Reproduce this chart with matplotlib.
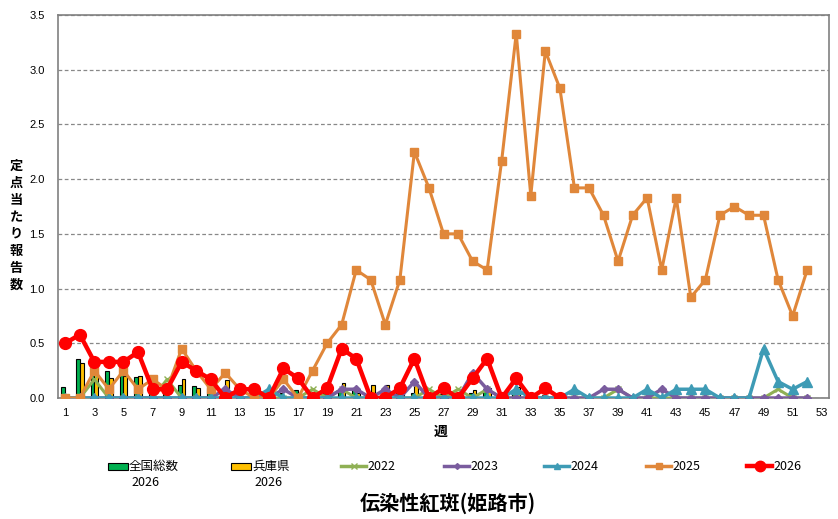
import numpy as np
import matplotlib
matplotlib.use("Agg")
import matplotlib.pyplot as plt
from matplotlib.patches import Rectangle
from matplotlib.lines import Line2D

plt.rcParams['font.family'] = ['Noto Sans CJK JP', 'DejaVu Sans']

weeks = list(range(1, 54))
tick_weeks = list(range(1, 54, 2))

national_2026 = [0.10, 0.36, 0.27, 0.25, 0.22, 0.19, 0.05, 0.11, 0.12, 0.11,
                 0.09, 0.09, 0.04, 0.03, 0.05, 0.05, 0.07, 0.05, 0.05, 0.07,
                 0.09, 0.05, 0.05, 0.05, 0.05, 0.04, 0.04, 0.04, 0.05, 0.07,
                 0.04, 0.06, 0.04, 0.03, 0.03]
hyogo_2026 = [0.0, 0.32, 0.24, 0.18, 0.20, 0.20, 0.0, 0.0, 0.17, 0.09,
              0.06, 0.16, 0.0, 0.0, 0.0, 0.0, 0.0, 0.0, 0.0, 0.14,
              0.05, 0.12, 0.12, 0.05, 0.12, 0.0, 0.0, 0.0, 0.07, 0.09,
              0.0, 0.10, 0.0, 0.0, 0.0]

s2022 = [0, 0, 0.17, 0, 0, 0, 0, 0.17, 0, 0,
         0, 0, 0, 0, 0, 0, 0, 0.08, 0, 0.08,
         0, 0, 0, 0, 0, 0.08, 0, 0.08, 0, 0.08,
         0, 0, 0, 0, 0, 0, 0, 0, 0.08, 0,
         0, 0, 0, 0, 0, 0, 0, 0, 0, 0.08,
         0, 0]
s2023 = [0, 0, 0, 0, 0, 0, 0, 0, 0, 0,
         0, 0.08, 0, 0, 0, 0.08, 0, 0, 0, 0.08,
         0.08, 0, 0.08, 0, 0.15, 0, 0, 0, 0.23, 0.08,
         0, 0, 0, 0, 0, 0, 0, 0.08, 0.08, 0,
         0, 0.08, 0, 0, 0, 0, 0, 0, 0, 0,
         0, 0]
s2024 = [0, 0, 0, 0, 0, 0, 0, 0, 0, 0,
         0, 0, 0, 0, 0.08, 0, 0, 0, 0, 0,
         0, 0, 0, 0, 0, 0, 0, 0, 0, 0,
         0, 0.08, 0, 0, 0, 0.08, 0, 0, 0, 0,
         0.08, 0, 0.08, 0.08, 0.08, 0, 0, 0, 0.45, 0.15,
         0.08, 0.15]
s2025 = [0, 0, 0.25, 0.08, 0.25, 0.08, 0.17, 0.08, 0.45, 0.25,
         0.08, 0.23, 0.08, 0, 0, 0.17, 0, 0.25, 0.5, 0.67,
         1.17, 1.08, 0.67, 1.08, 2.25, 1.92, 1.5, 1.5, 1.25, 1.17,
         2.17, 3.33, 1.85, 3.17, 2.83, 1.92, 1.92, 1.67, 1.25, 1.67,
         1.83, 1.17, 1.83, 0.92, 1.08, 1.67, 1.75, 1.67, 1.67, 1.08,
         0.75, 1.17]
s2026 = [0.5, 0.58, 0.33, 0.33, 0.33, 0.42, 0.08, 0.08, 0.33, 0.25,
         0.17, 0, 0.08, 0.08, 0, 0.27, 0.18, 0, 0.09, 0.45,
         0.36, 0, 0, 0.09, 0.36, 0, 0.09, 0, 0.18, 0.36,
         0, 0.18, 0, 0.09, 0]

C_NAT, C_HYO = '#00B050', '#FFC000'
C22, C23, C24, C25, C26 = '#8FB054', '#7A5C9E', '#3E9BB5', '#E0873A', '#FF0000'

W, H = 838, 519
fig = plt.figure(figsize=(W / 100, H / 100), dpi=100)
ax = fig.add_axes([58 / W, (H - 398) / H, (829 - 58) / W, (398 - 15) / H])

bw = 0.26
xn = np.arange(1, len(national_2026) + 1)
ax.bar(xn - bw / 2, national_2026, width=bw, color=C_NAT, edgecolor='black', linewidth=0.8, zorder=2)
ax.bar(xn + bw / 2, hyogo_2026, width=bw, color=C_HYO, edgecolor='black', linewidth=0.8, zorder=2)

def line(vals, color, marker, ms, lw, z=3):
    x = np.arange(1, len(vals) + 1)
    ax.plot(x, vals, color=color, marker=marker, markersize=ms, linewidth=lw,
            markeredgecolor=color, markerfacecolor=color, zorder=z)

line(s2022, C22, 'x', 5, 2.2, z=3)
line(s2023, C23, 'D', 4.5, 2.5, z=4)
line(s2024, C24, '^', 6.5, 2.5, z=5)
line(s2025, C25, 's', 5.5, 2.2, z=6)
line(s2026, C26, 'o', 8.5, 3.2, z=7)

ax.set_xlim(0.5, 53.5)
ax.set_ylim(0, 3.5)
yt = np.arange(0, 3.51, 0.5)
ax.set_yticks(yt)
ax.set_yticklabels([f"{v:.1f}" for v in yt], family='Liberation Sans', fontsize=8)
ax.set_xticks(tick_weeks)
ax.set_xticklabels([str(w) for w in tick_weeks], family='Liberation Sans', fontsize=8)
ax.tick_params(axis='both', length=0)
ax.tick_params(axis='y', pad=9.5)
ax.tick_params(axis='x', pad=7.5)
ax.yaxis.grid(True, linestyle=(0, (3, 2)), color='#888888', linewidth=0.9)
ax.set_axisbelow(True)
for sp in ax.spines.values():
    sp.set_color('#808080')
    sp.set_linewidth(1.2)

# y label (vertical stacked)
label = "定点当たり報告数"
ys = np.linspace(166, 285, len(label))
for ch, yy in zip(label, ys):
    fig.text(16 / W, 1 - yy / H, ch, ha='center', va='center', fontsize=9.5, fontweight='bold')

fig.text(441 / W, 1 - 432 / H, "週", ha='center', va='center', fontsize=10, fontweight='bold')

# legend drawn manually in figure pixel coordinates
def fx(px):
    return px / W

def fy(py):
    return 1 - py / H

ly = 466
leg_items = [
    ('patch', C_NAT, None, 108, ["全国総数", "2026"]),
    ('patch', C_HYO, None, 231, ["兵庫県", "2026"]),
    ('line', C22, ('x', 4, 2.5), 341, ["2022"]),
    ('line', C23, ('D', 3, 2.5), 444, ["2023"]),
    ('line', C24, ('^', 4.5, 2.5), 544, ["2024"]),
    ('line', C25, ('s', 4.5, 2.5), 646, ["2025"]),
    ('line', C26, ('o', 7.5, 3.2), 747, ["2026"]),
]
for kind, col, mk, x0, texts in leg_items:
    if kind == 'patch':
        hw = 20
        fig.add_artist(Rectangle((fx(x0), fy(ly + 3.5)), hw / W, 7 / H, facecolor=col,
                                 edgecolor='black', linewidth=0.8, transform=fig.transFigure))
    else:
        hw = 25
        fig.add_artist(Line2D([fx(x0), fx(x0 + hw)], [fy(ly), fy(ly)], color=col, linewidth=mk[2],
                              transform=fig.transFigure))
        fig.add_artist(Line2D([fx(x0 + hw / 2)], [fy(ly)], color=col, marker=mk[0], markersize=mk[1],
                              markerfacecolor=col, markeredgecolor=col, linewidth=0,
                              transform=fig.transFigure))
    tx = x0 + hw + 1
    fig.text(fx(tx), fy(ly), texts[0], ha='left', va='center', fontsize=9)
    if len(texts) > 1:
        fig.text(fx(tx + 2), fy(ly + 16), texts[1], ha='left', va='center', fontsize=9)

fig.text(448 / W, 1 - 503 / H, "伝染性紅斑(姫路市)", ha='center', va='center',
         fontsize=14.5, fontweight='bold')

fig.savefig("out.png", dpi=100)
